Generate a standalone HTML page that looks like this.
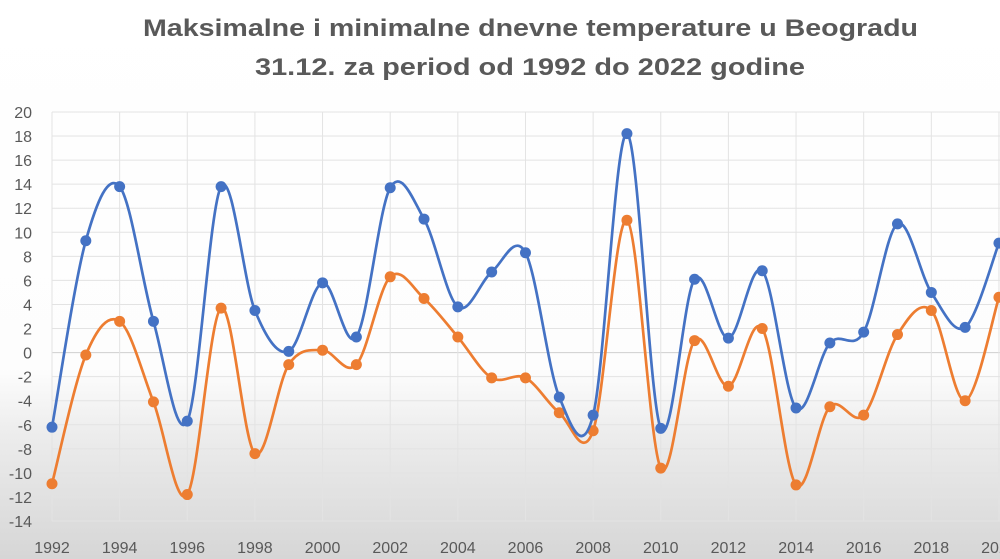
<!DOCTYPE html>
<html><head><meta charset="utf-8"><style>
html,body{margin:0;padding:0;width:1000px;height:559px;overflow:hidden;background:#fff}
</style></head><body>
<svg id="s" width="1000" height="559" xmlns="http://www.w3.org/2000/svg" font-family="Liberation Sans, sans-serif">
<defs><linearGradient id="g" x1="0" y1="0" x2="0" y2="1">
<stop offset="0" stop-color="#fff"/><stop offset="0.66" stop-color="#fdfdfd"/><stop offset="0.78" stop-color="#ececec"/><stop offset="1" stop-color="#d6d6d6"/></linearGradient></defs>
<rect width="1000" height="559" fill="url(#g)"/>
<text x="143" y="36" textLength="775" lengthAdjust="spacingAndGlyphs" font-size="24" font-weight="bold" fill="#595959">Maksimalne i minimalne dnevne temperature u Beogradu</text>
<text x="255" y="75" textLength="550" lengthAdjust="spacingAndGlyphs" font-size="24" font-weight="bold" fill="#595959">31.12. za period od 1992 do 2022 godine</text>
<g id="grid"></g><g id="lines"></g>
</svg>
<script>
const s=document.getElementById('grid'),L=document.getElementById('lines'),NS='http://www.w3.org/2000/svg';
const X=y=>52+(y-1992)*33.82, Y=v=>352.6-v*12.03;
function el(t,a,p,txt){const e=document.createElementNS(NS,t);for(const k in a)e.setAttribute(k,a[k]);if(txt!==undefined)e.textContent=txt;p.appendChild(e);return e;}
for(let v=-14;v<=20;v+=2){el('line',{x1:52,x2:1000,y1:Y(v),y2:Y(v),stroke:v==0?'#cfcfcf':'#e3e3e3','stroke-width':1},s);
el('text',{x:32,y:Y(v)+6,'text-anchor':'end','font-size':16,fill:'#595959'},s,v);}
for(let y=1992;y<=2021;y+=2){el('line',{x1:X(y),x2:X(y),y1:Y(20),y2:Y(-14),stroke:'#e3e3e3'},s);
el('text',{x:X(y),y:553,'text-anchor':'middle','font-size':16,fill:'#595959'},s,y);}
const B=[-6.2,9.3,13.8,2.6,-5.7,13.8,3.5,0.1,5.8,1.3,13.7,11.1,3.8,6.7,8.3,-3.7,-5.2,18.2,-6.3,6.1,1.2,6.8,-4.6,0.8,1.7,10.7,5.0,2.1,9.1];
const O=[-10.9,-0.2,2.6,-4.1,-11.8,3.7,-8.4,-1.0,0.2,-1.0,6.3,4.5,1.3,-2.1,-2.1,-5.0,-6.5,11.0,-9.6,1.0,-2.8,2.0,-11.0,-4.5,-5.2,1.5,3.5,-4.0,4.6];
function draw(d,c){const p=d.map((v,i)=>[X(1992+i),Y(v)]);let s='M'+p[0];const t=1/6;
for(let i=0;i<p.length-1;i++){const p0=p[i-1]||p[i],p1=p[i],p2=p[i+1],p3=p[i+2]||p2;
s+=' C'+(p1[0]+(p2[0]-p0[0])*t)+','+(p1[1]+(p2[1]-p0[1])*t)+' '+(p2[0]-(p3[0]-p1[0])*t)+','+(p2[1]-(p3[1]-p1[1])*t)+' '+p2;}
el('path',{d:s,fill:'none',stroke:c,'stroke-width':2.7},L);
p.forEach(q=>el('circle',{cx:q[0],cy:q[1],r:5.5,fill:c},L));}
draw(O,'#ed7d31');draw(B,'#4472c4');
</script>
</body></html>
